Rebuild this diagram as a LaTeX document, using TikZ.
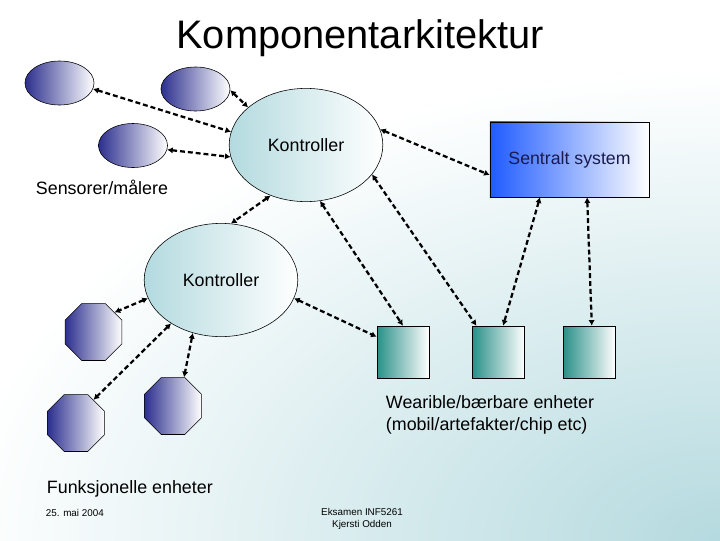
\documentclass[tikz,border=0pt]{standalone}
\usepackage{fontspec}
\setmainfont{Liberation Sans}
\usetikzlibrary{shapes.geometric,arrows.meta}
\definecolor{bgteal}{HTML}{B5DADF}
\definecolor{sensdark}{HTML}{2C2F8E}
\definecolor{kontteal}{HTML}{B3DADF}
\definecolor{sysblue}{HTML}{1F5BFF}
\definecolor{weardark}{HTML}{2A9089}
\definecolor{systext}{HTML}{1A1A4E}
\begin{document}
\begin{tikzpicture}[x=0.025cm,y=-0.025cm,
  sens/.style={draw,ellipse,left color=sensdark,right color=white,minimum width=1.725cm,minimum height=1.1cm,inner sep=0pt},
  kont/.style={draw,ellipse,left color=kontteal,right color=white,minimum width=3.84cm,minimum height=2.83cm,inner sep=0pt,font=\fontsize{12.7}{15}\selectfont},
  sys/.style={draw,rectangle,left color=sysblue,right color=white,minimum width=3.975cm,minimum height=1.875cm,inner sep=0pt,text=systext,font=\fontsize{12.6}{15}\selectfont},
  wear/.style={draw,rectangle,left color=weardark,right color=white,minimum size=1.3cm,inner sep=0pt},
  func/.style={draw,regular polygon,regular polygon sides=8,left color=sensdark,right color=white,minimum size=1.54cm,inner sep=0pt},
  lbl/.style={font=\fontsize{12.7}{15.6}\selectfont},
  foot/.style={font=\fontsize{7}{8.5}\selectfont},
  conn/.style={draw,line width=1.6pt,dash pattern=on 3.5pt off 2.1pt,{Latex[length=4pt,width=4.5pt]}-{Latex[length=4pt,width=4.5pt]}}]
\fill[white] (0,0) rectangle (720,540);
\begin{scope}
\clip (0,0) rectangle (720,540);
\shade[inner color=bgteal,outer color=white] (720,540) ellipse [x radius=760,y radius=470];
\end{scope}
\useasboundingbox (0,0) rectangle (720,540);

\node[font=\fontsize{28.3}{34}\selectfont] (title) at (360,38) {Komponentarkitektur};

\node[sens] (s1) at (59.5,83) {};
\node[sens] (s2) at (195.5,89) {};
\node[sens] (s3) at (133,145.5) {};
\node[kont] (k1) at (306,145) {Kontroller};
\node[kont] (k2) at (221,280) {Kontroller};
\node[sys] (ss) at (569.5,159.5) {Sentralt system};
\node[wear] (w1) at (403,352) {};
\node[wear] (w2) at (498.5,352) {};
\node[wear] (w3) at (589.5,352) {};
\node[func] (f1) at (93.5,332) {};
\node[func] (f2) at (76,423) {};
\node[func] (f3) at (173,406) {};

\node[lbl,anchor=west] (senslbl) at (31,187) {Sensorer/målere};
\node[lbl,anchor=west] (funclbl) at (42,489) {Funksjonelle enheter};
\node[lbl,anchor=west,align=left] (wearlbl) at (381,415) {Wearible/bærbare enheter\\(mobil/artefakter/chip etc)};
\node[foot,anchor=west] (date) at (41,513) {25. mai 2004};
\node[foot,align=center] (exam) at (362,519) {Eksamen INF5261\\Kjersti Odden};

\path[conn] (s1.350) -- (k1.170);
\path[conn] (s2.358) -- (k1.147);
\path[conn] (s3.353) -- (k1.189);
\path[conn] (k1.235) -- (k2.80);
\path[conn] (k1.12) -- (ss.191);
\path[conn] (k1.336) -- (w2.130);
\path[conn] (k1.284) -- (w1.north);
\path[conn] (ss.232) -- (w2.80);
\path[conn] (ss.295) -- (w3.85);
\path[conn] (k2.346) -- (w1.150);
\path[conn] (k2.194) -- (f1.43);
\path[conn] (k2.221) -- (f2.53);
\path[conn] (k2.242) -- (f3.69);
\end{tikzpicture}
\end{document}
